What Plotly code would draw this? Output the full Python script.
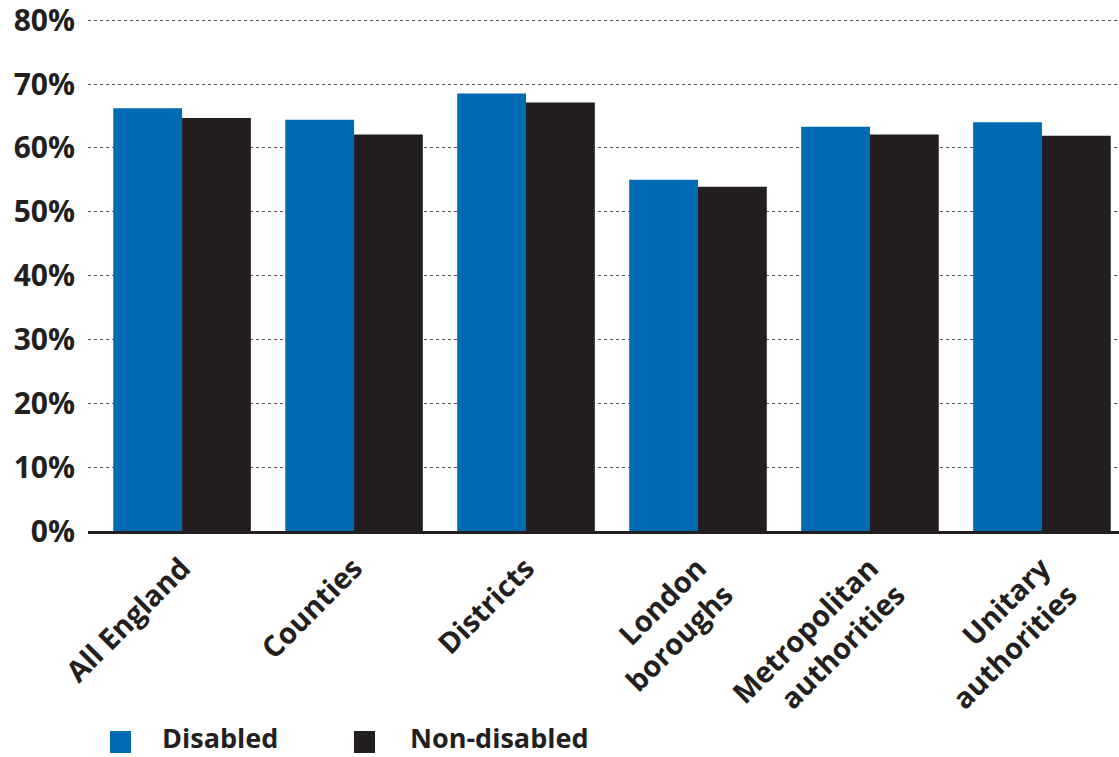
import plotly.graph_objects as go

categories = ["All England", "Counties", "Districts", "London<br>boroughs",
              "Metropolitan<br>authorities", "Unitary<br>authorities"]
series_names = ["Disabled", "Non-disabled"]
disabled = [66.2, 64.4, 68.5, 55.0, 63.3, 64.0]
non_disabled = [64.7, 62.1, 67.1, 53.9, 62.1, 61.9]
y_ticks = [0, 10, 20, 30, 40, 50, 60, 70, 80]
y_tick_text = [f"{v}%" for v in y_ticks]
colors = ["#006AB4", "#231F20"]

W, H = 1119, 757
L, R, T, B = 88, 0, 17, 226
Y_TOP = 80.5
FONT = "Open Sans"

fig = go.Figure()
for name, vals, col in zip(series_names, [disabled, non_disabled], colors):
    fig.add_trace(go.Bar(x=categories, y=vals, name=name, marker_color=col,
                         marker_line_width=0, showlegend=False))

fig.update_layout(
    width=W, height=H,
    margin=dict(l=L, r=R, t=T, b=B, autoexpand=False),
    paper_bgcolor="white", plot_bgcolor="white",
    barmode="group", bargap=0.2, bargroupgap=0,
    font=dict(family=FONT, color="#231F20", size=28),
)
fig.update_yaxes(
    range=[0, Y_TOP], tickmode="array", tickvals=y_ticks, ticktext=y_tick_text,
    showgrid=True, gridcolor="#555555", griddash="dot", gridwidth=1,
    zeroline=False, showline=False, automargin=False,
    ticklabeloverflow="allow",
    tickfont=dict(family=FONT, size=30, color="#231F20", weight="bold"),
    ticklabelstandoff=12,
)
fig.update_xaxes(
    range=[-0.547, 5.448], automargin=False,
    showline=True, linecolor="#231F20", linewidth=2.5,
    tickangle=-45, showgrid=False, ticklabelstandoff=6,
    tickfont=dict(family=FONT, size=29, color="#231F20", weight="bold"),
)

# legend drawn manually (paper coords from pixel positions)
PLOT_H = H - B - T

def px(x):
    return (x - L) / (W - L - R)

def py(y):
    return (H - B - y) / PLOT_H

leg = [(110, 160), (354, 408)]
for (sx, tx), name, col in zip(leg, series_names, colors):
    fig.add_shape(type="rect", xref="paper", yref="paper",
                  x0=px(sx), x1=px(sx + 21), y0=py(731), y1=py(753),
                  fillcolor=col, line_width=0)
    fig.add_annotation(xref="paper", yref="paper", x=px(tx), y=py(737),
                       text=name, showarrow=False, xanchor="left", yanchor="middle",
                       font=dict(family=FONT, size=27, color="#231F20", weight="bold"))

fig.write_html("out.html", config={"displayModeBar": False},
               post_script="document.body.style.margin='0';document.body.style.padding='0';")
